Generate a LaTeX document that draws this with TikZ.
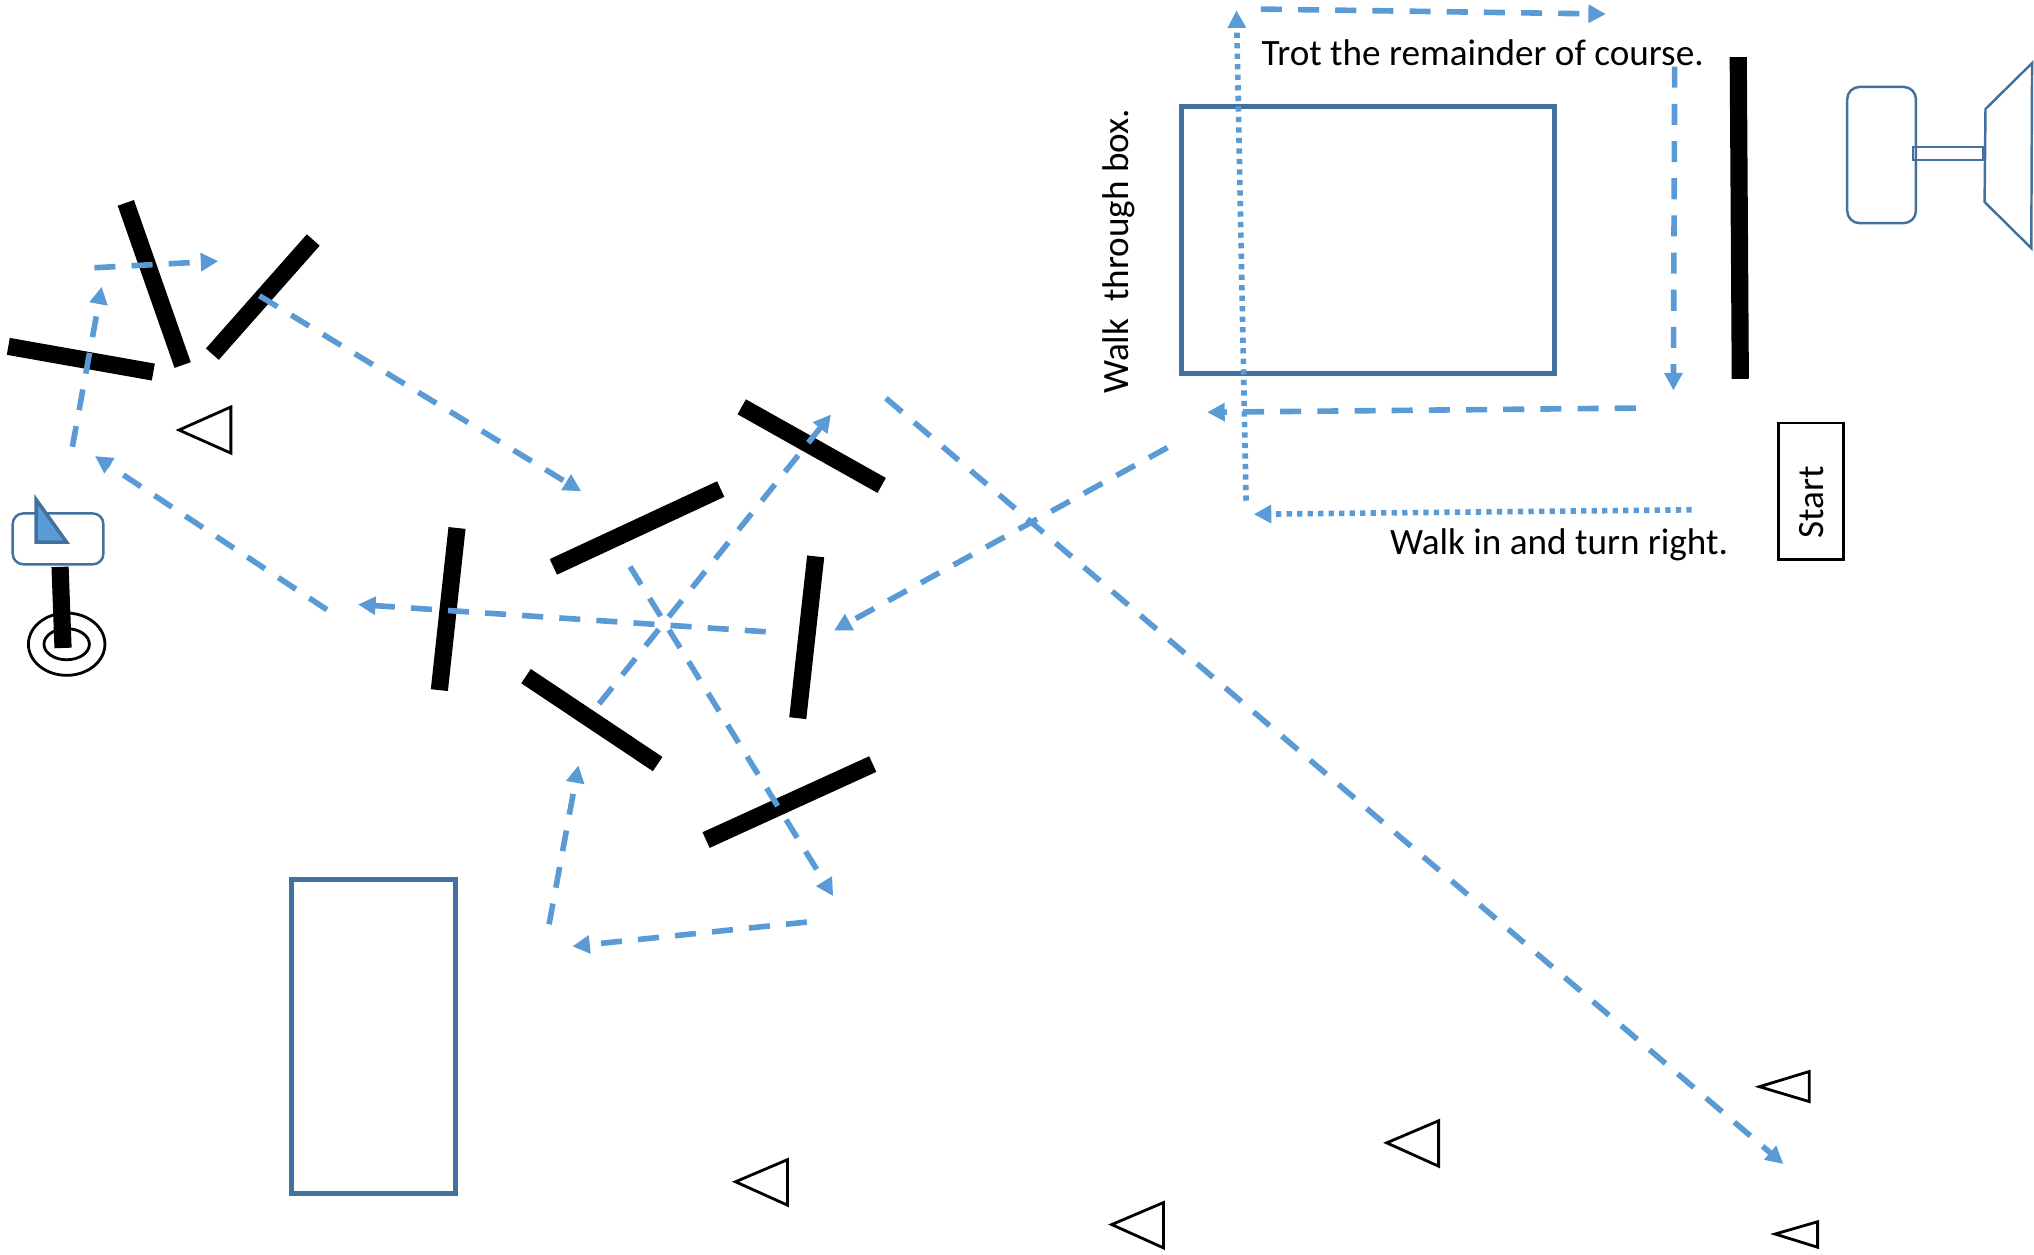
\documentclass[tikz,border=0pt]{standalone}
\usepackage{fontspec}
\setmainfont{Carlito}
\usetikzlibrary{arrows.meta}

\definecolor{routeblue}{HTML}{5B9BD5}
\definecolor{edgeblue}{HTML}{41719C}

\tikzset{
  obstacle/.style={black, line width=4.9pt},
  cone/.style={black, line width=.8pt, fill=white},
  pen/.style={edgeblue, line width=1.4pt},
  gear/.style={edgeblue, line width=.7pt},
  route/.style={routeblue, line width=1.6pt, dash pattern=on 6pt off 4.6pt, -{Triangle[length=5pt,width=5pt]}},
  walkroute/.style={routeblue, line width=1.6pt, dash pattern=on 1.5pt off 1.5pt, -{Triangle[length=5pt,width=5pt]}},
  label/.style={font=\fontsize{10.6}{12}\selectfont, inner sep=0pt, text=black}
}

\begin{document}
\begin{tikzpicture}[x=.013cm, y=-.013cm]
      \useasboundingbox (0,0) rectangle (1568,967);

      \draw[pen] (910.5,82) rectangle (1198,288);
      \draw[pen] (225,678) rectangle (351,920);

      \draw[obstacle] (1340,44) -- (1341.6,292);
      \draw[obstacle] (97,156.4) -- (140.8,281.4);
      \draw[obstacle] (241.5,185) -- (163.7,273);
      \draw[obstacle] (6.4,267) -- (118.2,286.8);
      \draw[obstacle] (571.8,313.6) -- (679.7,374.2);
      \draw[obstacle] (426.6,437) -- (555.6,377);
      \draw[obstacle] (352.3,407) -- (338.7,532);
      \draw[obstacle] (628.8,428.9) -- (615,553.6);
      \draw[obstacle] (405.5,521.2) -- (507,589);
      \draw[obstacle] (544.3,647.6) -- (672.8,589);

      \draw[cone] (138,331.5) -- (178,313.7) -- (178,349.3) -- cycle;
      \draw[cone] (567,911) -- (607,894) -- (607,929) -- cycle;
      \draw[cone] (857,944) -- (897,927) -- (897,962) -- cycle;
      \draw[cone] (1069,881) -- (1109,864) -- (1109,899) -- cycle;
      \draw[cone] (1356.3,837.7) -- (1394.8,826) -- (1394.8,849.2) -- cycle;
      \draw[cone] (1368.4,951.3) -- (1401.2,941.8) -- (1401.2,961.5) -- cycle;

      \draw[black, line width=.8pt] (51.4,496.6) ellipse (29.5 and 24);
      \draw[black, line width=.8pt] (51.4,496.6) ellipse (17.5 and 12);
      \draw[obstacle] (46.3,437) -- (48.6,499.5);
      \draw[gear, rounded corners=3pt] (9.8,395.8) rectangle (79.7,435);
      \draw[gear, line width=1pt, fill=routeblue] (27.8,385) -- (27.8,418) -- (51.4,418) -- cycle;

      \draw[gear, rounded corners=3.5pt] (1424,67) rectangle (1477,172);
      \draw[gear] (1474.8,113.4) rectangle (1528.7,123.4);
      \draw[gear] (1566.5,48.6) -- (1530.6,84) -- (1529.9,155.7) -- (1565.9,191.3) -- cycle;

      \draw[black, line width=.7pt] (1371,326) rectangle (1421,431.4);

      \node[label, anchor=base west] (trot) at (972,50.8) {Trot the remainder of course.};
      \node[label, anchor=base west] (walkin) at (1071,427.4) {Walk in and turn right.};
      \node[label, anchor=base west, rotate=90] (walkbox) at (869.6,304) {Walk\ \ through box.};
      \node[label, anchor=base west, rotate=90] (start) at (1405.8,415.5) {Start};

      \draw[walkroute] (1304,393) -- (966.5,396.4);
      \draw[walkroute] (960.6,386) -- (953.2,8);

      \draw[route] (972,7) -- (1238,10.8);
      \draw[route] (1291,51.4) -- (1290,301);
      \draw[route] (1261,314.6) -- (930.6,317.8);
      \draw[route] (900,345) -- (643,486);
      \draw[route] (683,307) -- (1374.8,897.3);
      \draw[route] (461.8,542.6) -- (640.6,319.5);
      \draw[route] (485.7,436.8) -- (642.3,690.8);
      \draw[route] (590.3,487) -- (276,466);
      \draw[route] (622,710.8) -- (441.2,729.5);
      \draw[route] (423.3,712.5) -- (445.9,590);
      \draw[route] (252,470) -- (73.2,351.6);
      \draw[route] (55.8,344.4) -- (78.4,221);
      \draw[route] (72.8,206.4) -- (168.3,201.3);
      \draw[route] (200,228) -- (448,378.7);

  \end{tikzpicture}
\end{document}
